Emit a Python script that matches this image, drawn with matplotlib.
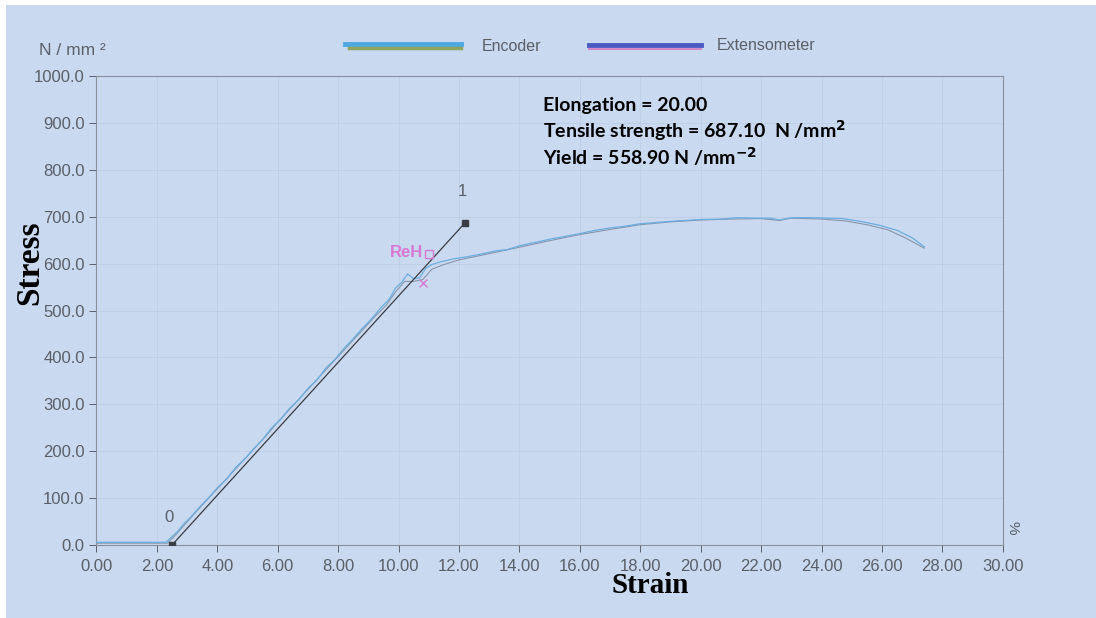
import numpy as np
import matplotlib.pyplot as plt
from matplotlib.lines import Line2D
from matplotlib.patches import Rectangle

# stress-strain data
enc_strain = [0.0, 1.0, 2.3, 2.5, 2.7, 2.9, 3.1, 3.4, 3.7, 4.0, 4.3, 4.6, 4.9, 5.2,
              5.5, 5.8, 6.1, 6.4, 6.7, 7.0, 7.3, 7.6, 7.9, 8.2, 8.5, 8.8, 9.1, 9.4,
              9.7, 9.9, 10.1, 10.3, 10.5, 10.7, 10.9, 11.1, 11.4, 11.8, 12.2, 12.7,
              13.2, 13.6, 14.0, 14.5, 15.0, 15.5, 16.0, 16.5, 17.0, 17.5, 18.0,
              18.6, 19.2, 20.0, 20.7, 21.2, 21.8, 22.3, 22.6, 23.0, 23.6, 24.2,
              24.7, 25.3, 25.9, 26.5, 27.0, 27.4]
enc_stress = [6, 6, 6, 18, 30, 46, 58, 80, 100, 122, 140, 165, 183, 205,
              225, 250, 268, 292, 310, 334, 352, 378, 396, 420, 440, 462, 482, 505,
              525, 548, 560, 578, 568, 570, 590, 598, 604, 610, 614, 620,
              627, 630, 638, 645, 652, 658, 664, 671, 676, 680, 685,
              688, 691, 694, 695, 698, 697, 697, 693, 698, 698, 697,
              696, 690, 682, 671, 655, 636]

ext_strain = [0.0, 1.0, 2.35, 2.6, 2.9, 3.2, 3.6, 4.0, 4.4, 4.8, 5.2, 5.6, 6.0,
              6.4, 6.8, 7.2, 7.6, 8.0, 8.4, 8.8, 9.2, 9.6, 9.9, 10.2, 10.5, 10.8,
              11.1, 11.5, 12.0, 12.6, 13.2, 14.0, 15.0, 16.0, 17.0, 18.0, 19.0,
              20.0, 21.0, 22.0, 22.6, 23.0, 24.0, 24.8, 25.5, 26.2, 26.8, 27.4]
ext_stress = [4, 4, 4, 20, 42, 64, 92, 120, 148, 176, 204, 232, 262,
              290, 318, 346, 374, 402, 430, 458, 486, 512, 540, 562, 562, 566,
              588, 598, 608, 616, 624, 635, 649, 662, 673, 683, 689,
              693, 695, 696, 692, 697, 695, 691, 683, 672, 654, 633]

# modulus line between points 0 and 1
ref_strain = [2.5, 12.2]
ref_stress = [0, 687]

reh_strain, reh_stress = 11.0, 620
yield_strain, yield_stress = 10.8, 559

x_ticks = np.arange(0, 31, 2)
y_ticks = np.arange(0, 1001, 100)

bg = '#c9d9ef'
tick_col = '#5a5f68'

fig = plt.figure(figsize=(10.96, 6.18), dpi=100, facecolor=bg)
ax = fig.add_axes([0.088, 0.118, 0.827, 0.759], facecolor=bg)

ax.plot(ext_strain, ext_stress, color='#8796aa', lw=0.8, zorder=3)
ax.plot(enc_strain, enc_stress, color='#6aaee0', lw=0.9, zorder=4)
ax.plot(ref_strain, ref_stress, color='#3a3d44', lw=0.9, marker='s',
        markersize=4, markerfacecolor='#3a3d44', zorder=5)
ax.text(ref_strain[0] - 0.1, 50, '0', color=tick_col, fontsize=12,
        ha='center', family='Liberation Sans')
ax.text(ref_strain[1] - 0.1, 745, '1', color=tick_col, fontsize=12,
        ha='center', family='Liberation Sans')

ax.text(reh_strain - 0.2, reh_stress + 3, 'ReH', color='#d77ad4', fontsize=12,
        fontweight='bold', ha='right', va='center', family='Liberation Sans')
ax.plot(reh_strain, reh_stress, marker='s', markersize=6, markerfacecolor='none',
        markeredgecolor='#d77ad4', zorder=6)
ax.plot(yield_strain, yield_stress, marker='x', markersize=6,
        markeredgecolor='#d77ad4', zorder=6)

ax.set_xlim(0, 30)
ax.set_ylim(0, 1000)
ax.set_xticks(x_ticks)
ax.set_xticklabels([f'{v:.2f}' for v in x_ticks])
ax.set_yticks(y_ticks)
ax.set_yticklabels([f'{v:.1f}' for v in y_ticks])
ax.tick_params(colors=tick_col, labelsize=12, length=5, width=0.7)
ax.tick_params(axis='x', pad=5)
for lab in ax.get_xticklabels() + ax.get_yticklabels():
    lab.set_family('Liberation Sans')
ax.grid(True, color='#bccbe2', lw=0.5)
for s in ax.spines.values():
    s.set_color('#8a909a')
    s.set_linewidth(0.8)

ax.text(1.011, 0.036, '%', transform=ax.transAxes, rotation=-90, color=tick_col,
        fontsize=11, ha='center', va='center', family='Liberation Sans')

# axis titles
fig.text(0.027, 0.575, 'Stress', rotation=90, fontsize=24, fontweight='bold',
         family='Liberation Serif', ha='center', va='center')
fig.text(0.593, 0.052, 'Strain', fontsize=21, fontweight='bold',
         family='Liberation Serif', ha='center', va='center')
fig.text(0.036, 0.918, 'N / mm ²', fontsize=12.5, color=tick_col,
         family='Liberation Sans', va='center')

# results block
info = ['Elongation = 20.00',
        'Tensile strength = 687.10  N /mm$^{\\mathbf{2}}$',
        'Yield = 558.90 N /mm$^{\\mathbf{-2}}$']
for i, line in enumerate(info):
    fig.text(0.495, 0.830 - i * 0.042, line, fontsize=14, fontweight='bold',
             family='Lato', va='center')

# legend drawn like the printout
fig.add_artist(Line2D([0.315, 0.421], [0.929, 0.929], color='#4ea9e2', lw=3.5))
fig.add_artist(Line2D([0.318, 0.421], [0.923, 0.923], color='#8ea35e', lw=2.5))
fig.text(0.440, 0.925, 'Encoder', fontsize=11.5, color=tick_col,
         family='Liberation Sans', va='center')
fig.add_artist(Line2D([0.537, 0.640], [0.927, 0.927], color='#4a5cc4', lw=3.5))
fig.add_artist(Line2D([0.537, 0.640], [0.921, 0.921], color='#d488c8', lw=1.5))
fig.text(0.654, 0.926, 'Extensometer', fontsize=11.5, color=tick_col,
         family='Liberation Sans', va='center')

# white paper edge on top and left
fig.patches.append(Rectangle((0, 0.992), 1, 0.008, transform=fig.transFigure,
                             facecolor='white', edgecolor='none'))
fig.patches.append(Rectangle((0, 0), 0.0055, 1, transform=fig.transFigure,
                             facecolor='white', edgecolor='none'))

fig.savefig('out.png', dpi=100, facecolor=bg)
